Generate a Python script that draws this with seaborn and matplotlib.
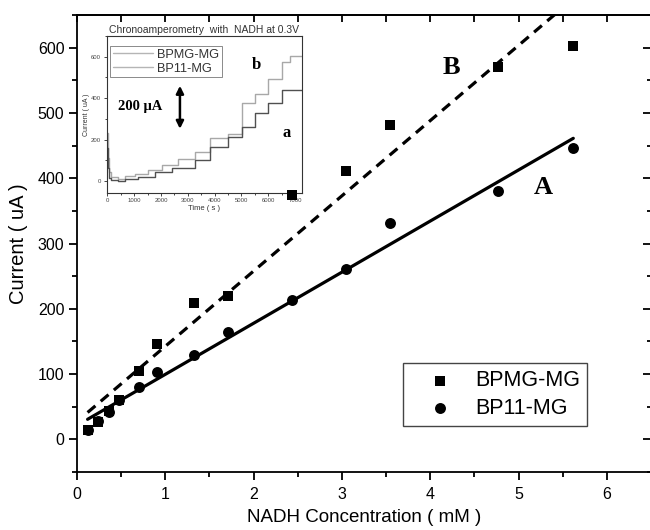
import matplotlib
matplotlib.use("Agg")
import matplotlib.pyplot as plt
import numpy as np
import pandas as pd
import seaborn as sns
from matplotlib.ticker import MultipleLocator

# main plot: calibration points
conc = [0.12, 0.24, 0.36, 0.47, 0.70, 0.91, 1.33, 1.71, 2.44, 3.05, 3.54, 4.77, 5.62]
bpmg = [14, 27, 44, 60, 105, 146, 209, 220, 375, 411, 482, 571, 602]
bp11 = [14, 28, 42, 61, 80, 103, 129, 164, 213, 261, 332, 381, 446]

# inset: chronoamperometry staircases (step start time, level)
t_b = [0, 15, 50, 150, 400, 660, 1030, 1530, 2030, 2650, 3270, 3830, 4510, 5010, 5510, 6000, 6500, 6800, 7250]
cur_b = [230, 110, 45, 18, 10, 24, 34, 53, 77, 105, 142, 206, 225, 375, 418, 491, 576, 605, 605]
t_a = [0, 15, 50, 150, 400, 660, 1150, 1780, 2400, 3270, 3830, 4510, 5010, 5510, 6000, 6500, 7250]
cur_a = [160, 60, 15, 3, 0, 10, 21, 45, 61, 100, 166, 214, 262, 327, 375, 440, 440]

df = pd.DataFrame({"conc": conc, "BPMG-MG": bpmg, "BP11-MG": bp11})

sns.set_style("ticks")
plt.rcParams["font.family"] = ["Liberation Sans", "DejaVu Sans"]
plt.rcParams.update({
    "axes.linewidth": 1.3,
    "axes.edgecolor": "black",
    "axes.labelcolor": "black",
    "text.color": "black",
    "xtick.color": "black",
    "ytick.color": "black",
})

fig = plt.figure(figsize=(6.5, 5.3), dpi=100)
ax = fig.add_axes([77 / 650, 58 / 530, 574 / 650, 457 / 530])

sns.regplot(data=df, x="conc", y="BPMG-MG", ax=ax, ci=None, truncate=True, marker="s", color="black",
            scatter_kws=dict(s=55, alpha=1, linewidths=0, zorder=3),
            line_kws=dict(lw=2.3, ls=(0, (3.2, 2.2))), label="BPMG-MG")
sns.regplot(data=df, x="conc", y="BP11-MG", ax=ax, ci=None, truncate=True, marker="o", color="black",
            scatter_kws=dict(s=62, alpha=1, linewidths=0, zorder=4),
            line_kws=dict(lw=2.3), label="BP11-MG")

ax.set_xlim(0, 6.5)
ax.set_ylim(-50, 650)
ax.xaxis.set_major_locator(MultipleLocator(1))
ax.xaxis.set_minor_locator(MultipleLocator(0.5))
ax.yaxis.set_major_locator(MultipleLocator(100))
ax.yaxis.set_minor_locator(MultipleLocator(50))
ax.tick_params(which="major", direction="out", length=6, width=1.3, labelsize=11.5, pad=3)
ax.tick_params(which="minor", direction="out", length=3.5, width=1.3)
ax.tick_params(axis="x", which="major", pad=4.5)

# inward ticks on top and right, like the original
top = ax.secondary_xaxis("top")
top.xaxis.set_major_locator(MultipleLocator(1))
top.xaxis.set_minor_locator(MultipleLocator(0.5))
top.tick_params(which="both", direction="in", length=5, width=1.3, labeltop=False)
right = ax.secondary_yaxis("right")
right.yaxis.set_major_locator(MultipleLocator(100))
right.yaxis.set_minor_locator(MultipleLocator(50))
right.tick_params(which="major", direction="in", length=6, width=1.3, labelright=False)
right.tick_params(which="minor", direction="in", length=3, width=1.3)

ax.set_xlabel("NADH Concentration ( mM )", fontsize=13.5, labelpad=5)
ax.set_ylabel("Current ( uA )", fontsize=14.5, labelpad=7)

ax.text(4.24, 570, "B", fontsize=19, fontweight="bold", family="Liberation Serif", ha="center", va="center")
ax.text(5.28, 386, "A", fontsize=19, fontweight="bold", family="Liberation Serif", ha="center", va="center")

leg = ax.legend(loc="lower right", bbox_to_anchor=(0.908, 0.0766), fontsize=15.5,
                frameon=True, fancybox=False, framealpha=1, edgecolor="#444444",
                borderpad=0.35, handlelength=2.8, handletextpad=0.2, labelspacing=0.3)
leg.get_frame().set_linewidth(1.0)

# inset
ins = fig.add_axes([106.7 / 650, (530 - 192.7) / 530, 195.3 / 650, 156.7 / 530])
ins.plot(t_b, cur_b, drawstyle="steps-post", color="#a8a8a8", lw=1.0, label="BPMG-MG")
ins.plot(t_a, cur_a, drawstyle="steps-post", color="#505050", lw=1.0, label="BP11-MG")
ins.set_xlim(-25, 7260)
ins.set_ylim(-57, 700)
ins.xaxis.set_major_locator(MultipleLocator(1000))
ins.xaxis.set_minor_locator(MultipleLocator(500))
ins.yaxis.set_major_locator(MultipleLocator(200))
ins.yaxis.set_minor_locator(MultipleLocator(100))
for s in ins.spines.values():
    s.set_linewidth(0.8)
    s.set_color("#333333")
ins.tick_params(which="both", direction="out", labelsize=4.3, width=0.7, pad=1.5, colors="#444444")
ins.tick_params(which="major", length=2.5)
ins.tick_params(which="minor", length=1.5)
ins.set_xlabel("Time ( s )", fontsize=5.5, labelpad=1.5, color="#333333")
ins.set_ylabel("Current ( uA )", fontsize=5, labelpad=1, color="#333333")
ins.set_title("Chronoamperometry  with  NADH at 0.3V", fontsize=7.5, pad=2.5, color="#333333")
ileg = ins.legend(loc="upper left", bbox_to_anchor=(0.017, 0.936), borderaxespad=0, fontsize=9.2,
                  frameon=True, fancybox=False, framealpha=1, edgecolor="#777777",
                  borderpad=0.2, handlelength=3.2, handletextpad=0.3, labelspacing=0.15)
ileg.get_frame().set_linewidth(0.6)
for t in ileg.get_texts():
    t.set_color("#333333")
for ln in ileg.get_lines():
    ln.set_color("#b5b5b5")

ins.text(0.17, 0.55, "200 μA", transform=ins.transAxes, fontsize=10.5, fontweight="bold",
         family="Liberation Serif", ha="center", va="center")
ins.text(0.768, 0.815, "b", transform=ins.transAxes, fontsize=12, fontweight="bold",
         family="Liberation Serif", ha="center", va="center")
ins.text(0.922, 0.379, "a", transform=ins.transAxes, fontsize=12, fontweight="bold",
         family="Liberation Serif", ha="center", va="center")
ins.annotate("", xy=(0.375, 0.39), xytext=(0.375, 0.70), xycoords="axes fraction",
             arrowprops=dict(arrowstyle="<|-|>", color="black", lw=1.8, mutation_scale=11))

# main markers sit on top of the inset (the square at 2.44 mM overlaps it)
ins.set_zorder(1)
ax.set_zorder(2)
ax.patch.set_alpha(0)

fig.savefig("out.png", dpi=100)
